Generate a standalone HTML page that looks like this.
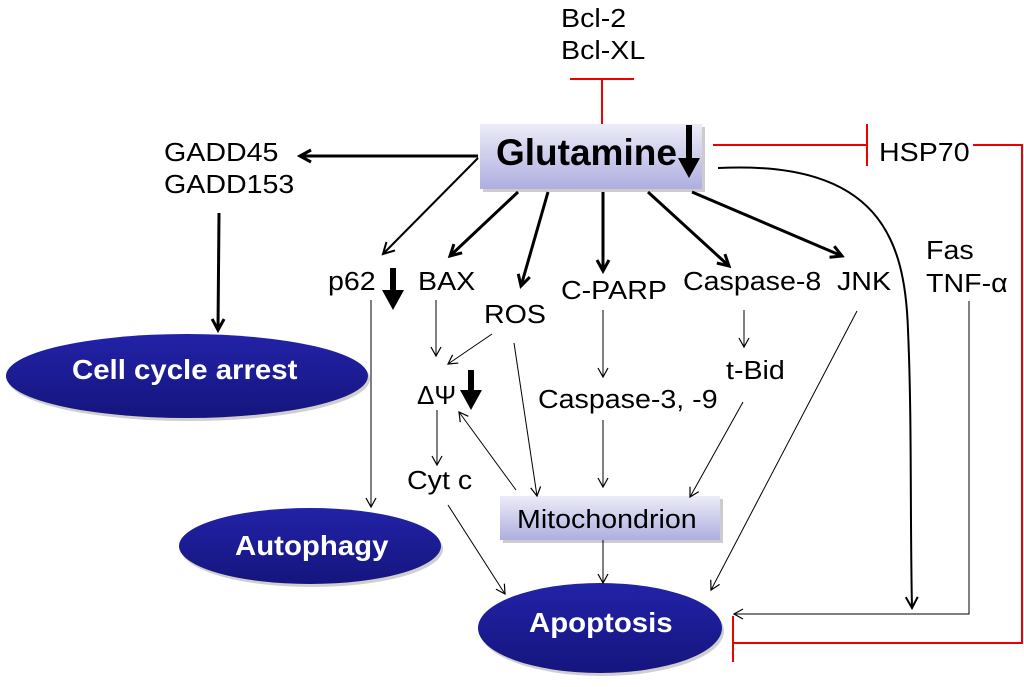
<!DOCTYPE html>
<html><head><meta charset="utf-8"><style>
html,body{margin:0;padding:0;background:#fff;}
svg text{font-family:"Liberation Sans",sans-serif;}
</style></head><body>
<svg width="1024" height="682" viewBox="0 0 1024 682" xmlns="http://www.w3.org/2000/svg">
<defs>
<linearGradient id="box" x1="0" y1="0" x2="0" y2="1"><stop offset="0" stop-color="#ececf8"/><stop offset="1" stop-color="#aeaee0"/></linearGradient>
<linearGradient id="ell" x1="0" y1="0" x2="0" y2="1"><stop offset="0" stop-color="#2222a8"/><stop offset="1" stop-color="#15157e"/></linearGradient>
<marker id="a" markerWidth="12" markerHeight="12" refX="10" refY="6" orient="auto" markerUnits="userSpaceOnUse"><path d="M1,1 L10,6 L1,11" fill="none" stroke="#000" stroke-width="1.2"/></marker>
<marker id="ab" markerWidth="16" markerHeight="16" refX="13" refY="8" orient="auto" markerUnits="userSpaceOnUse"><path d="M2,2 L13,8 L2,14" fill="none" stroke="#000" stroke-width="3"/></marker>
<marker id="am" markerWidth="14" markerHeight="14" refX="12" refY="7" orient="auto" markerUnits="userSpaceOnUse"><path d="M1,1 L12,7 L1,13" fill="none" stroke="#000" stroke-width="2"/></marker>
</defs>

<g font-size="26">
<text transform="translate(561,27) scale(1.1,1)">Bcl-2</text>
<text transform="translate(561,59) scale(1.1,1)">Bcl-XL</text>
<text transform="translate(879,161) scale(1.1,1)">HSP70</text>
<text transform="translate(164,161) scale(1.1,1)">GADD45</text>
<text transform="translate(164,193) scale(1.1,1)">GADD153</text>
<text transform="translate(328,290) scale(1.1,1)">p62</text>
<text transform="translate(418,290) scale(1.1,1)">BAX</text>
<text transform="translate(484,323) scale(1.1,1)">ROS</text>
<text transform="translate(561,299) scale(1.1,1)">C-PARP</text>
<text transform="translate(683,290) scale(1.1,1)">Caspase-8</text>
<text transform="translate(837,290) scale(1.1,1)">JNK</text>
<text transform="translate(926,259) scale(1.1,1)">Fas</text>
<text transform="translate(926,292) scale(1.1,1)">TNF-α</text>
<text transform="translate(417,404)" font-family="Liberation Serif">ΔΨ</text>
<text transform="translate(407,489) scale(1.1,1)">Cyt c</text>
<text transform="translate(538,408) scale(1.1,1)">Caspase-3, -9</text>
<text transform="translate(726,379) scale(1.1,1)">t-Bid</text>
</g>

<g stroke="#e00" stroke-width="2" fill="none">
<line x1="570" y1="79" x2="634" y2="79"/><line x1="602" y1="79" x2="602" y2="124"/>
<line x1="713" y1="145" x2="867" y2="145"/><line x1="867" y1="124" x2="867" y2="166"/>
<polyline points="973,145 1022,145 1022,643 733,643"/><line x1="733" y1="616" x2="733" y2="662"/>
</g>

<!-- Glutamine box -->
<rect x="483" y="127" width="222" height="65" fill="#999" opacity="0.5"/>
<rect x="480" y="124" width="222" height="65" fill="url(#box)"/>
<text transform="translate(496,165)" font-size="37" font-weight="bold">Glutamine</text>
<line x1="689" y1="125" x2="689" y2="160" stroke="#000" stroke-width="6"/>
<path d="M678,158 L700,158 L689,178 Z" fill="#000"/>

<line x1="478" y1="156" x2="300" y2="156" stroke="#000" stroke-width="3" marker-end="url(#ab)"/>
<line x1="219" y1="213" x2="218" y2="330" stroke="#000" stroke-width="3" marker-end="url(#ab)"/>

<!-- ellipses -->
<ellipse cx="189" cy="379" rx="181" ry="42" fill="#888" opacity="0.4"/>
<ellipse cx="187" cy="376" rx="181" ry="42" fill="url(#ell)"/>
<text transform="translate(72,379) scale(1.05,1)" font-size="28" font-weight="bold" fill="#fff">Cell cycle arrest</text>
<ellipse cx="312" cy="549" rx="131" ry="38" fill="#888" opacity="0.4"/>
<ellipse cx="310" cy="546" rx="131" ry="38" fill="url(#ell)"/>
<text transform="translate(235,555) scale(1.05,1)" font-size="28" font-weight="bold" fill="#fff">Autophagy</text>
<ellipse cx="602" cy="631" rx="122" ry="45" fill="#888" opacity="0.4"/>
<ellipse cx="600" cy="628" rx="122" ry="45" fill="url(#ell)"/>
<text transform="translate(529,632) scale(1.05,1)" font-size="28" font-weight="bold" fill="#fff">Apoptosis</text>

<line x1="393" y1="268" x2="393" y2="292" stroke="#000" stroke-width="6"/>
<path d="M382,290 L404,290 L393,310 Z" fill="#000"/>
<line x1="471" y1="370" x2="471" y2="392" stroke="#000" stroke-width="6"/>
<path d="M460,390 L482,390 L471,410 Z" fill="#000"/>

<!-- Mito box -->
<rect x="503" y="499" width="220" height="44" fill="#999" opacity="0.5"/>
<rect x="500" y="496" width="220" height="44" fill="url(#box)"/>
<text transform="translate(517,528) scale(1.1,1)" font-size="26">Mitochondrion</text>

<!-- arrows from glutamine -->
<line x1="478" y1="158" x2="383" y2="254" stroke="#000" stroke-width="2" marker-end="url(#am)"/>
<line x1="518" y1="192" x2="450" y2="256" stroke="#000" stroke-width="3" marker-end="url(#ab)"/>
<line x1="548" y1="192" x2="521" y2="286" stroke="#000" stroke-width="3" marker-end="url(#ab)"/>
<line x1="603" y1="192" x2="603" y2="271" stroke="#000" stroke-width="3" marker-end="url(#ab)"/>
<line x1="648" y1="192" x2="729" y2="266" stroke="#000" stroke-width="3" marker-end="url(#ab)"/>
<line x1="692" y1="192" x2="842" y2="256" stroke="#000" stroke-width="3" marker-end="url(#ab)"/>
<path d="M718,168 C880,160 905,240 908,330 C912,420 910,520 912,608" fill="none" stroke="#000" stroke-width="2" marker-end="url(#am)"/>

<!-- thin arrows -->
<g stroke="#000" stroke-width="1" fill="none" marker-end="url(#a)">
<line x1="371" y1="300" x2="371" y2="507"/>
<line x1="436" y1="300" x2="436" y2="356"/>
<line x1="492" y1="334" x2="448" y2="364"/>
<line x1="437" y1="410" x2="437" y2="465"/>
<line x1="448" y1="505" x2="505" y2="594"/>
<line x1="516" y1="490" x2="459" y2="412"/>
<line x1="514" y1="343" x2="537" y2="496"/>
<line x1="603" y1="310" x2="603" y2="377"/>
<line x1="603" y1="420" x2="603" y2="487"/>
<line x1="744" y1="310" x2="744" y2="347"/>
<line x1="743" y1="402" x2="690" y2="497"/>
<line x1="603" y1="540" x2="603" y2="583"/>
<line x1="857" y1="311" x2="711" y2="590"/>
<polyline points="969,301 969,614 734,614"/>
</g>
</svg>
</body></html>
